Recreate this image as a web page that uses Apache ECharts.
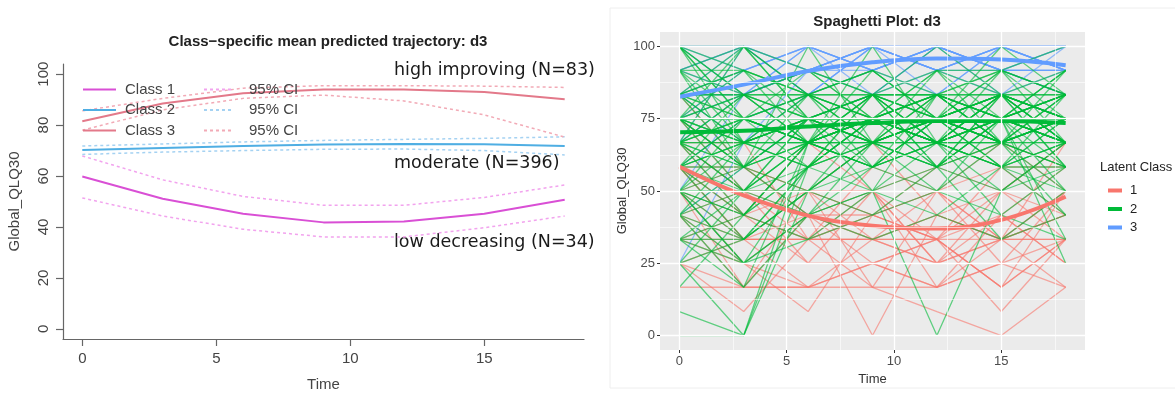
<!DOCTYPE html>
<html>
<head>
<meta charset="utf-8">
<script src="https://cdn.jsdelivr.net/npm/echarts@6/dist/echarts.min.js"></script>
<style>
  body { margin: 0; background: #fff; }
  #main { width: 1175px; height: 397px; }
</style>
</head>
<body>
<div id="main"></div>
<script>
// time points (months)
var times = [0, 3, 6, 9, 12, 15, 18];

// left: class-specific mean predicted trajectory + 95% CI
var class1Mean  = [59.8, 51.1, 45.2, 41.8, 42.1, 45.2, 50.7];
var class1Upper = [67.9, 58.5, 52.0, 48.5, 48.5, 51.6, 56.5];
var class1Lower = [51.4, 44.3, 39.1, 36.1, 36.1, 39.7, 44.3];
var class2Mean  = [70.2, 71.0, 71.8, 72.4, 72.6, 72.5, 71.8];
var class2Upper = [71.8, 72.6, 73.4, 74.0, 74.4, 74.8, 75.4];
var class2Lower = [68.5, 69.4, 70.0, 70.5, 70.6, 70.0, 68.3];
var class3Mean  = [81.5, 88.5, 92.5, 94.0, 94.0, 93.0, 90.2];
var class3Upper = [85.6, 90.5, 94.5, 95.5, 95.5, 95.3, 94.8];
var class3Lower = [78.0, 86.0, 90.5, 91.8, 89.5, 84.0, 75.3];

var leftXTicks = [0, 5, 10, 15];
var leftYTicks = [0, 20, 40, 60, 80, 100];
var rightXTicks = [0, 5, 10, 15];
var rightXMinor = [2.5, 7.5, 12.5, 17.5];
var rightYTicks = [0, 25, 50, 75, 100];
var rightYMinor = [12.5, 37.5, 62.5, 87.5];

// right: individual trajectories by latent class
var spaghettiRed = [
  [58.3, 41.7, 33.3, 33.3, 33.3, 50, 66.7],
  [66.7, 50, 50, 41.7, 33.3, 16.7, 33.3],
  [50, 33.3, 16.7, 25, 16.7, 25, 33.3],
  [16.7, 16.7, 16.7, 16.7, 16.7, 25, 16.7],
  [25, 8.3, 33.3, 16.7, 8.3, 0, 16.7],
  [41.7, 25, 8.3, 41.7, 33.3, 8.3, 33.3],
  [75, 50, 41.7, 0, 41.7, 33.3, 50],
  [58.3, 58.3, 50, 50, 58.3, 66.7, 50],
  [33.3, 33.3, 33.3, 33.3, 33.3, 33.3, 33.3],
  [66.7, 41.7, 66.7, 50, 25, 50, 41.7],
  [50, 25, 41.7, 33.3, 50, 66.7, 58.3],
  [83.3, 58.3, 50, 66.7, 41.7, 33.3, 41.7],
  [41.7, 50, 25, 50, 16.7, 41.7, 25],
  [25, 16.7, 50, 33.3, 41.7, 50, 33.3],
  [58.3, 33.3, 41.7, 25, 33.3, 16.7, 50],
  [50, 41.7, 33.3, 58.3, 50, 33.3, 41.7],
  [33.3, 25, 16.7, 33.3, 25, 41.7, 25],
  [66.7, 66.7, 33.3, 41.7, 58.3, 50, 66.7],
  [41.7, 33.3, 50, 16.7, 50, 25, 50],
  [75, 58.3, 41.7, 50, 33.3, 58.3, 58.3],
  [58.3, 33.3, 33.3, 33.3, 25, 33.3, 33.3],
  [41.7, 16.7, 16.7, 25, 16.7, 33.3, 41.7],
  [66.7, 50, 33.3, 41.7, 33.3, 41.7, 58.3],
  [50, 58.3, 41.7, 33.3, 41.7, 33.3, 66.7],
  [33.3, 41.7, 25, 25, 33.3, 16.7, 33.3],
  [58.3, 41.7, 50, 41.7, 50, 58.3, 41.7],
  [25, 33.3, 33.3, 50, 25, 33.3, 16.7],
  [50, 16.7, 41.7, 41.7, 50, 33.3, 50]
];
var spaghettiBlue = [
  [100, 100, 100, 100, 100, 100, 100],
  [83.3, 100, 91.7, 100, 91.7, 100, 91.7],
  [66.7, 83.3, 100, 91.7, 100, 91.7, 100],
  [91.7, 100, 83.3, 100, 100, 91.7, 83.3],
  [75, 91.7, 100, 91.7, 100, 100, 91.7],
  [83.3, 83.3, 91.7, 100, 91.7, 100, 100],
  [58.3, 75, 83.3, 100, 91.7, 83.3, 100],
  [100, 91.7, 100, 83.3, 100, 91.7, 91.7],
  [25, 66.7, 91.7, 100, 100, 100, 91.7],
  [50, 83.3, 100, 91.7, 83.3, 100, 100],
  [91.7, 100, 100, 91.7, 100, 91.7, 83.3],
  [83.3, 66.7, 83.3, 91.7, 100, 100, 100],
  [100, 83.3, 91.7, 100, 91.7, 91.7, 100],
  [41.7, 58.3, 75, 83.3, 91.7, 100, 91.7],
  [83.3, 91.7, 100, 100, 91.7, 100, 91.7],
  [66.7, 100, 83.3, 100, 100, 83.3, 91.7],
  [91.7, 83.3, 91.7, 91.7, 100, 91.7, 91.7],
  [100, 100, 91.7, 100, 83.3, 100, 100],
  [75, 83.3, 91.7, 83.3, 100, 91.7, 91.7]
];
var spaghettiGreen = [
  [0, 0, 50, 66.7, 66.7, 75, 66.7],
  [8.3, 0, 58.3, 75, 66.7, 58.3, 66.7],
  [25, 0, 66.7, 58.3, 75, 83.3, 75],
  [33.3, 16.7, 66.7, 75, 83.3, 66.7, 75],
  [50, 25, 41.7, 50, 0, 50, 58.3],
  [100, 66.7, 75, 83.3, 75, 83.3, 91.7],
  [100, 83.3, 91.7, 75, 83.3, 75, 83.3],
  [91.7, 100, 83.3, 91.7, 83.3, 91.7, 100],
  [83.3, 100, 75, 83.3, 100, 83.3, 75],
  [75, 58.3, 100, 66.7, 75, 100, 83.3],
  [66.7, 75, 66.7, 100, 66.7, 75, 66.7],
  [58.3, 50, 58.3, 66.7, 91.7, 66.7, 75],
  [50, 41.7, 66.7, 75, 75, 83.3, 58.3],
  [41.7, 33.3, 50, 58.3, 66.7, 58.3, 41.7],
  [33.3, 25, 41.7, 50, 58.3, 33.3, 50],
  [25, 33.3, 58.3, 66.7, 50, 75, 25],
  [75, 75, 75, 75, 75, 75, 75],
  [66.7, 66.7, 66.7, 66.7, 66.7, 66.7, 66.7],
  [83.3, 83.3, 83.3, 83.3, 83.3, 83.3, 83.3],
  [66.7, 66.7, 75, 75, 75, 75, 75],
  [75, 66.7, 75, 75, 83.3, 75, 75],
  [58.3, 66.7, 58.3, 75, 66.7, 83.3, 66.7],
  [91.7, 83.3, 75, 83.3, 66.7, 75, 91.7],
  [100, 91.7, 83.3, 75, 91.7, 83.3, 83.3],
  [83.3, 66.7, 83.3, 91.7, 75, 66.7, 75],
  [50, 25, 33.3, 41.7, 50, 41.7, 33.3],
  [41.7, 16.7, 41.7, 33.3, 41.7, 33.3, 41.7],
  [66.7, 50, 41.7, 58.3, 50, 66.7, 58.3],
  [58.3, 83.3, 66.7, 58.3, 75, 58.3, 66.7],
  [75, 91.7, 83.3, 66.7, 58.3, 83.3, 75],
  [66.7, 100, 91.7, 83.3, 66.7, 91.7, 83.3],
  [83.3, 58.3, 75, 50, 83.3, 75, 83.3],
  [41.7, 66.7, 58.3, 83.3, 58.3, 66.7, 75],
  [33.3, 33.3, 50, 66.7, 83.3, 75, 66.7],
  [50, 58.3, 83.3, 75, 66.7, 50, 66.7],
  [91.7, 75, 66.7, 91.7, 75, 66.7, 58.3],
  [16.7, 41.7, 58.3, 75, 66.7, 83.3, 75],
  [75, 50, 50, 66.7, 83.3, 91.7, 66.7],
  [58.3, 41.7, 66.7, 83.3, 75, 66.7, 83.3],
  [100, 75, 83.3, 66.7, 75, 75, 66.7],
  [66.7, 83.3, 75, 66.7, 83.3, 66.7, 91.7],
  [83.3, 75, 66.7, 83.3, 66.7, 83.3, 66.7],
  [75, 83.3, 91.7, 75, 66.7, 75, 83.3],
  [50, 66.7, 75, 58.3, 75, 66.7, 50],
  [33.3, 50, 75, 66.7, 58.3, 75, 83.3],
  [66.7, 58.3, 50, 75, 66.7, 58.3, 75],
  [58.3, 75, 66.7, 66.7, 58.3, 75, 66.7],
  [75, 66.7, 58.3, 83.3, 75, 66.7, 75],
  [91.7, 66.7, 75, 75, 91.7, 75, 66.7],
  [25, 50, 66.7, 58.3, 66.7, 66.7, 58.3],
  [41.7, 58.3, 41.7, 66.7, 75, 83.3, 66.7],
  [83.3, 91.7, 66.7, 75, 75, 66.7, 75],
  [66.7, 75, 83.3, 58.3, 66.7, 75, 75],
  [50, 50, 66.7, 83.3, 66.7, 58.3, 66.7],
  [75, 58.3, 75, 66.7, 75, 91.7, 75],
  [58.3, 33.3, 50, 41.7, 58.3, 50, 66.7],
  [100, 83.3, 66.7, 75, 75, 83.3, 75],
  [66.7, 41.7, 66.7, 75, 66.7, 75, 83.3],
  [83.3, 83.3, 75, 66.7, 75, 75, 66.7],
  [75, 100, 75, 75, 66.7, 66.7, 75],
  [91.7, 91.7, 83.3, 83.3, 91.7, 91.7, 83.3],
  [75, 75, 83.3, 75, 75, 66.7, 75],
  [66.7, 58.3, 66.7, 75, 75, 75, 66.7],
  [58.3, 58.3, 75, 66.7, 66.7, 58.3, 58.3],
  [50, 41.7, 58.3, 66.7, 58.3, 66.7, 41.7],
  [83.3, 75, 75, 83.3, 83.3, 75, 91.7],
  [100, 100, 83.3, 91.7, 75, 91.7, 83.3],
  [41.7, 50, 66.7, 75, 83.3, 75, 83.3],
  [33.3, 41.7, 33.3, 50, 41.7, 58.3, 50],
  [75, 83.3, 66.7, 58.3, 66.7, 83.3, 58.3],
  [66.7, 75, 58.3, 75, 83.3, 66.7, 66.7],
  [58.3, 66.7, 75, 83.3, 58.3, 83.3, 75],
  [83.3, 91.7, 75, 66.7, 75, 58.3, 83.3],
  [75, 66.7, 83.3, 75, 58.3, 75, 91.7],
  [50, 75, 66.7, 58.3, 83.3, 66.7, 75],
  [91.7, 58.3, 66.7, 75, 66.7, 83.3, 66.7],
  [66.7, 50, 75, 66.7, 75, 58.3, 75],
  [58.3, 75, 66.7, 75, 66.7, 75, 50],
  [75, 75, 66.7, 83.3, 75, 83.3, 75],
  [41.7, 25, 58.3, 50, 66.7, 41.7, 58.3],
  [83.3, 66.7, 66.7, 75, 83.3, 83.3, 75],
  [100, 75, 91.7, 83.3, 83.3, 66.7, 83.3],
  [66.7, 83.3, 83.3, 66.7, 75, 75, 58.3],
  [75, 58.3, 66.7, 58.3, 75, 66.7, 83.3],
  [58.3, 66.7, 66.7, 66.7, 75, 83.3, 66.7],
  [50, 33.3, 58.3, 75, 58.3, 75, 33.3]
];
// smoothed class means drawn on top
var smoothRed   = [58.5, 48.5, 41.5, 38.0, 37.0, 40.0, 48.0];
var smoothGreen = [70.3, 70.8, 72.3, 73.5, 74.2, 74.2, 73.5];
var smoothBlue  = [82.6, 86.8, 91.5, 94.5, 95.8, 95.5, 93.5];

function pts(vals) {
  return vals.map(function (v, i) { return [times[i], v]; });
}

var myChart = echarts.init(document.getElementById('main'));
var series = [];

// left chart lines
function addClass(name, mean, upper, lower, color, ciColor) {
  series.push({
    name: name, type: 'line', xAxisIndex: 0, yAxisIndex: 0, symbol: 'none',
    data: pts(mean), lineStyle: { color: color, width: 2 }, itemStyle: { color: color }, z: 3
  });
  [upper, lower].forEach(function (b) {
    series.push({
      name: 'CI ' + name.slice(-1), type: 'line', xAxisIndex: 0, yAxisIndex: 0, symbol: 'none',
      data: pts(b), lineStyle: { color: ciColor, width: 1.5, type: [3, 3] }, itemStyle: { color: ciColor }, z: 2
    });
  });
}
addClass('Class 1', class1Mean, class1Upper, class1Lower, '#D94FD5', '#F2A3EE');
addClass('Class 2', class2Mean, class2Upper, class2Lower, '#4FAEE3', '#A5D2F2');
addClass('Class 3', class3Mean, class3Upper, class3Lower, '#E3798A', '#F2AAB6');

// right chart gridlines (white on grey panel)
var gridLines = [];
rightYTicks.forEach(function (v) { gridLines.push({ yAxis: v, lineStyle: { width: 1.3 } }); });
rightYMinor.forEach(function (v) { gridLines.push({ yAxis: v, lineStyle: { width: 0.6 } }); });
rightXTicks.forEach(function (v) { gridLines.push({ xAxis: v, lineStyle: { width: 1.3 } }); });
rightXMinor.forEach(function (v) { gridLines.push({ xAxis: v, lineStyle: { width: 0.6 } }); });
series.push({
  type: 'line', xAxisIndex: 1, yAxisIndex: 1, data: [], silent: true, z: 1,
  markLine: {
    silent: true, symbol: ['none', 'none'], label: { show: false },
    lineStyle: { color: '#FFFFFF', type: 'solid' }, data: gridLines
  }
});

// individual trajectories
function addThin(list, color, op) {
  list.forEach(function (vals) {
    series.push({
      type: 'line', xAxisIndex: 1, yAxisIndex: 1, symbol: 'none', silent: true, z: 2,
      data: pts(vals), lineStyle: { color: color, width: 1.3, opacity: op }
    });
  });
}
addThin(spaghettiRed, '#F8766D', 0.6);
addThin(spaghettiBlue, '#619CFF', 0.65);
addThin(spaghettiGreen, '#00BA38', 0.6);

[['1', smoothRed, '#F8766D'], ['2', smoothGreen, '#00BA38'], ['3', smoothBlue, '#619CFF']].forEach(function (s) {
  series.push({
    name: s[0], type: 'line', xAxisIndex: 1, yAxisIndex: 1, symbol: 'none', smooth: 0.4, z: 4,
    data: pts(s[1]), lineStyle: { color: s[2], width: 4 }, itemStyle: { color: s[2] }
  });
});

var option = {
  animation: false,
  backgroundColor: '#FFFFFF',
  textStyle: { fontFamily: 'Liberation Sans, Arial, sans-serif' },
  title: [
    {
      text: 'Class\u2212specific mean predicted trajectory: d3', left: 323, top: 29, textAlign: 'center',
      textStyle: { fontSize: 15, fontWeight: 'bold', color: '#222' }
    },
    {
      text: 'Spaghetti Plot: d3', left: 872, top: 9, textAlign: 'center',
      textStyle: { fontSize: 15, fontWeight: 'bold', color: '#222' }
    }
  ],
  legend: [
    {
      data: ['Class 1', 'Class 2', 'Class 3'], orient: 'vertical', left: 77, top: 77,
      itemWidth: 33, itemHeight: 14, itemGap: 5.5, selectedMode: false,
      itemStyle: { opacity: 0 },
      textStyle: { fontSize: 15, color: '#444', padding: [0, 0, 0, 4] }
    },
    {
      data: ['CI 1', 'CI 2', 'CI 3'], orient: 'vertical', left: 198, top: 77,
      itemWidth: 30, itemHeight: 14, itemGap: 5.5, selectedMode: false,
      itemStyle: { opacity: 0 },
      formatter: function () { return '95% CI'; },
      textStyle: { fontSize: 15, color: '#444', padding: [0, 0, 0, 10] }
    },
    {
      data: ['1', '2', '3'], orient: 'vertical', left: 1101, top: 179,
      itemWidth: 14, itemHeight: 10, itemGap: 5.5, selectedMode: false,
      itemStyle: { opacity: 0 },
      lineStyle: { width: 4 },
      textStyle: { fontSize: 13, color: '#222', padding: [0, 0, 0, 3] }
    }
  ],
  grid: [
    { left: 63, top: 64, width: 521, height: 279, show: false },
    { left: 660, top: 32, width: 425, height: 318, show: true, backgroundColor: '#EBEBEB', borderWidth: 0 }
  ],
  xAxis: [
    {
      type: 'value', gridIndex: 0, min: -0.72, max: 18.72,
      name: 'Time', nameLocation: 'middle', nameGap: 38,
      nameTextStyle: { fontSize: 15, color: '#444' },
      axisLine: { onZero: false, lineStyle: { color: '#666', width: 1.2 } },
      axisTick: { customValues: leftXTicks, length: 7, lineStyle: { color: '#666', width: 1.2 } },
      axisLabel: { customValues: leftXTicks, fontSize: 15, color: '#444', margin: 12 },
      splitLine: { show: false }
    },
    {
      type: 'value', gridIndex: 1, min: -0.9, max: 18.9,
      name: 'Time', nameLocation: 'middle', nameGap: 20,
      nameTextStyle: { fontSize: 13, color: '#333' },
      axisLine: { show: false, onZero: false },
      axisTick: { show: true, customValues: rightXTicks, length: 3, lineStyle: { color: '#333' } },
      axisLabel: { customValues: rightXTicks, fontSize: 13, color: '#4D4D4D', margin: 5 },
      splitLine: { show: false }
    }
  ],
  yAxis: [
    {
      type: 'value', gridIndex: 0, min: -4, max: 104,
      name: 'Global_QLQ30', nameLocation: 'middle', nameGap: 41,
      nameTextStyle: { fontSize: 15, color: '#444' },
      axisLine: { show: true, onZero: false, lineStyle: { color: '#666', width: 1.2 } },
      axisTick: { show: true, customValues: leftYTicks, length: 7, lineStyle: { color: '#666', width: 1.2 } },
      axisLabel: { customValues: leftYTicks, rotate: 90, fontSize: 15, color: '#444', margin: 12 },
      splitLine: { show: false }
    },
    {
      type: 'value', gridIndex: 1, min: -5, max: 105,
      name: 'Global_QLQ30', nameLocation: 'middle', nameGap: 28,
      nameTextStyle: { fontSize: 13, color: '#333' },
      axisLine: { show: false, onZero: false },
      axisTick: { show: true, customValues: rightYTicks, length: 3, lineStyle: { color: '#333' } },
      axisLabel: { customValues: rightYTicks, fontSize: 13, color: '#4D4D4D', margin: 5 },
      splitLine: { show: false }
    }
  ],
  graphic: [
    { type: 'text', x: 394, y: 70, style: { text: 'high improving (N=83)', font: '17.5px "DejaVu Sans"', fill: '#1a1a1a', verticalAlign: 'middle' } },
    { type: 'text', x: 394, y: 163, style: { text: 'moderate (N=396)', font: '17.5px "DejaVu Sans"', fill: '#1a1a1a', verticalAlign: 'middle' } },
    { type: 'text', x: 394, y: 242, style: { text: 'low decreasing (N=34)', font: '17.5px "DejaVu Sans"', fill: '#1a1a1a', verticalAlign: 'middle' } },
    { type: 'text', x: 1100, y: 167, style: { text: 'Latent Class', font: '13px "Liberation Sans"', fill: '#222', verticalAlign: 'middle' } },
    { type: 'rect', shape: { x: 610, y: 8, width: 570, height: 380 }, style: { fill: 'none', stroke: '#EEEEEE' } }
  ],
  series: series
};

myChart.setOption(option);
</script>
</body>
</html>
